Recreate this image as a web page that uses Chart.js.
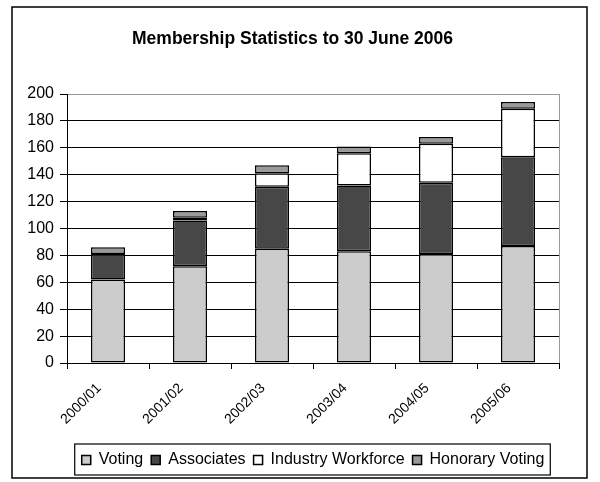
<!DOCTYPE html>
<html>
<head>
<meta charset="utf-8">
<script src="https://cdn.jsdelivr.net/npm/chart.js@4"></script>
<style>
  body { margin: 0; background: #fff; }
  #wrap { width: 600px; height: 482px; }
</style>
</head>
<body>
<div id="wrap"><canvas id="memberChart" width="600" height="482"></canvas></div>
<script>
// data
var years = ['2000/01', '2001/02', '2002/03', '2003/04', '2004/05', '2005/06'];
var voting = [62, 72, 85, 83, 81, 87];
var associates = [19, 34, 46, 49, 53, 66];
var industryWorkforce = [0, 2, 10, 24, 29, 36];
var honoraryVoting = [5, 5, 6, 5, 5, 5];
var yTicks = [0, 20, 40, 60, 80, 100, 120, 140, 160, 180, 200];

var FONT = "'Liberation Sans', Arial, sans-serif";

// frame round the whole chart, grey right edge of plot, box round legend
var framePlugin = {
  id: 'frame',
  beforeDraw: function(chart) {
    var ctx = chart.ctx;
    ctx.save();
    ctx.fillStyle = '#fff';
    ctx.fillRect(0, 0, chart.width, chart.height);
    ctx.restore();
  },
  afterDraw: function(chart) {
    var ctx = chart.ctx;
    var area = chart.chartArea;
    ctx.save();
    ctx.strokeStyle = '#999';
    ctx.lineWidth = 1;
    ctx.beginPath();
    ctx.moveTo(area.right + 0.5, area.top);
    ctx.lineTo(area.right + 0.5, area.bottom);
    ctx.stroke();

    ctx.strokeStyle = '#000';
    ctx.lineWidth = 1.5;
    ctx.strokeRect(12, 7, 575, 471);

    var boxes = chart.legend.legendHitBoxes;
    if (boxes && boxes.length) {
      var l = boxes[0].left, r = 0, t = boxes[0].top, b = 0;
      boxes.forEach(function(h) {
        l = Math.min(l, h.left);
        r = Math.max(r, h.left + h.width);
        t = Math.min(t, h.top);
        b = Math.max(b, h.top + h.height);
      });
      ctx.lineWidth = 1.2;
      ctx.strokeRect(l - 7, t - 8, r - l + 13, b - t + 15);
    }
    ctx.restore();
  }
};

function segment(label, values, colour) {
  return {
    label: label,
    data: values,
    backgroundColor: colour,
    borderColor: '#000',
    borderWidth: 1.5,
    borderSkipped: false,
    categoryPercentage: 1,
    barPercentage: 0.415
  };
}

var ctx = document.getElementById('memberChart').getContext('2d');
var memberChart = new Chart(ctx, {
  type: 'bar',
  data: {
    labels: years,
    datasets: [
      segment('Voting', voting, '#cccccc'),
      segment('Associates', associates, '#474747'),
      segment('Industry Workforce', industryWorkforce, '#ffffff'),
      segment('Honorary Voting', honoraryVoting, '#999999')
    ]
  },
  options: {
    responsive: false,
    animation: false,
    layout: { padding: { left: 26, right: 41, top: 0, bottom: 4 } },
    plugins: {
      title: {
        display: true,
        text: 'Membership Statistics to 30 June 2006',
        color: '#000',
        font: { family: FONT, size: 17.5, weight: 'bold' },
        padding: { top: 28.5, bottom: 44.5 }
      },
      legend: {
        position: 'bottom',
        fullSize: false,
        labels: {
          color: '#000',
          font: { family: FONT, size: 16 },
          boxWidth: 9,
          boxHeight: 9,
          padding: 8,
          useBorderRadius: false
        }
      },
      tooltip: { enabled: false }
    },
    scales: {
      x: {
        stacked: true,
        afterFit: function(scale) { scale.height = 81; },
        grid: {
          offset: true,
          drawOnChartArea: false,
          color: '#000',
          tickLength: 6
        },
        border: { color: '#000', width: 1 },
        ticks: {
          color: '#000',
          font: { family: FONT, size: 14 },
          minRotation: 45,
          maxRotation: 45,
          padding: 11,
          labelOffset: -9
        }
      },
      y: {
        stacked: true,
        min: 0,
        max: 200,
        afterFit: function(scale) { scale.width = 41; },
        afterBuildTicks: function(scale) {
          scale.ticks = yTicks.map(function(v) { return { value: v }; });
        },
        grid: {
          color: function(c) { return c.tick && c.tick.value === 200 ? '#999' : '#000'; },
          tickColor: '#000',
          tickLength: 7
        },
        border: { color: '#000', width: 1 },
        ticks: {
          color: '#000',
          font: { family: FONT, size: 16 },
          padding: 6
        }
      }
    }
  },
  plugins: [framePlugin]
});
</script>
</body>
</html>
